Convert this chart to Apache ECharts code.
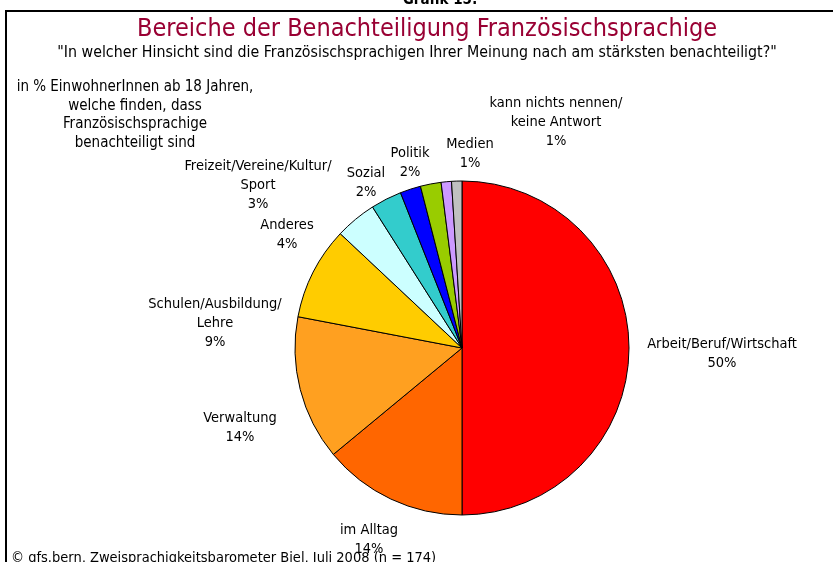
<!DOCTYPE html>
<html>
<head>
<meta charset="utf-8">
<script src="https://cdn.jsdelivr.net/npm/echarts@6/dist/echarts.min.js"></script>
<style>
  html, body { margin: 0; padding: 0; background: #fff; }
  #chart { width: 833px; height: 562px; }
</style>
</head>
<body>
<div id="chart"></div>
<script>
// Anteile in %, im Uhrzeigersinn ab 12 Uhr
const categories = [
  "Arbeit/Beruf/Wirtschaft",
  "im Alltag",
  "Verwaltung",
  "Schulen/Ausbildung/\nLehre",
  "Anderes",
  "Freizeit/Vereine/Kultur/\nSport",
  "Sozial",
  "Politik",
  "Medien",
  "kann nichts nennen/\nkeine Antwort"
];
const shares = [50, 14, 14, 9, 4, 3, 2, 2, 1, 1];

const sliceColors = [
  "#ff0000", "#ff6600", "#ffa020", "#ffcc00", "#ccffff",
  "#33cccc", "#0000ff", "#99cc00", "#cc99ff", "#c0c0c0"
];
// Etiketten-Mittelpunkte wie in der Vorlage (von Hand platziert)
const labelAnchors = [
  [722, 354], [369, 540], [240, 428], [215, 323], [287, 235],
  [258, 185], [366, 183], [410, 163], [470, 154], [556, 122]
];

const font = "'DejaVu Sans Condensed', 'DejaVu Sans', sans-serif";

const chart = echarts.init(document.getElementById("chart"));
chart.setOption({
  animation: false,
  backgroundColor: "#fff",
  textStyle: { fontFamily: font },
  title: [
    {
      text: "Grafik 15:",
      left: 435, top: -12, textAlign: "center",
      textStyle: { fontFamily: font, fontSize: 15, fontWeight: "bold", color: "#000" }
    },
    {
      text: "Bereiche der Benachteiligung Französischsprachige",
      left: 422, top: 12, textAlign: "center",
      textStyle: { fontFamily: font, fontSize: 25, fontWeight: "normal", color: "#990033" }
    },
    {
      text: "\"In welcher Hinsicht sind die Französischsprachigen Ihrer Meinung nach am stärksten benachteiligt?\"",
      left: 412, top: 40, textAlign: "center",
      textStyle: { fontFamily: font, fontSize: 15.8, fontWeight: "normal", color: "#000" }
    },
    {
      text: "in % EinwohnerInnen ab 18 Jahren,\nwelche finden, dass\nFranzösischsprachige\nbenachteiligt sind",
      left: 130, top: 73, textAlign: "center",
      textStyle: { fontFamily: font, fontSize: 15, fontWeight: "normal", color: "#000", lineHeight: 18.5, align: "center" }
    },
    {
      text: "© gfs.bern, Zweisprachigkeitsbarometer Biel, Juli 2008 (n = 174)",
      left: 6, top: 546,
      textStyle: { fontFamily: font, fontSize: 14.5, fontWeight: "normal", color: "#000" }
    }
  ],
  graphic: [
    {
      type: "rect",
      shape: { x: 6, y: 11, width: 900, height: 700 },
      style: { fill: "none", stroke: "#000", lineWidth: 2 },
      z: -1
    }
  ],
  series: [
    {
      type: "pie",
      center: [462, 348],
      radius: 167,
      startAngle: 90,
      clockwise: true,
      avoidLabelOverlap: false,
      data: categories.map((name, i) => ({
        name,
        value: shares[i],
        itemStyle: { color: sliceColors[i] }
      })),
      itemStyle: { borderColor: "#000", borderWidth: 1 },
      label: {
        show: true,
        position: "outside",
        formatter: (p) => `${p.name}\n${p.value}%`,
        fontFamily: font,
        fontSize: 14.5,
        lineHeight: 19,
        color: "#000",
        align: "center"
      },
      labelLine: { show: false },
      labelLayout: (params) => {
        const [x, y] = labelAnchors[params.dataIndex];
        return { x, y, align: "center", verticalAlign: "middle" };
      },
      emphasis: { disabled: true }
    }
  ]
});
</script>
</body>
</html>
